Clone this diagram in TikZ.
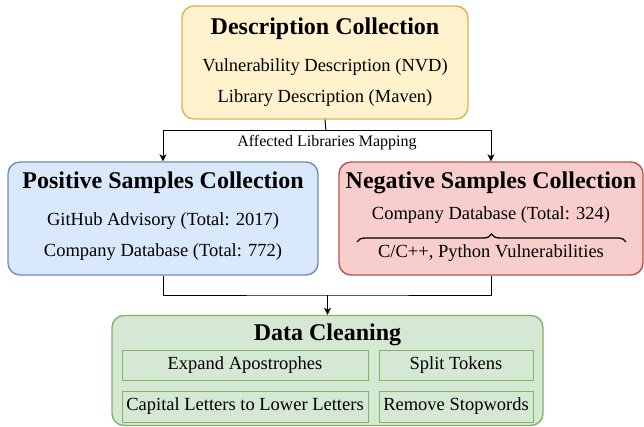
\documentclass[tikz,border=0pt]{standalone}
\usepackage{fontspec}
\setmainfont{Liberation Serif}
\usepackage{xcolor}
\usetikzlibrary{arrows.meta,calc,decorations.pathreplacing}
\definecolor{descfill}{HTML}{FFF2CC}
\definecolor{descline}{HTML}{D6B656}
\definecolor{posfill}{HTML}{DAE8FC}
\definecolor{posline}{HTML}{6C8EBF}
\definecolor{negfill}{HTML}{F8CECC}
\definecolor{negline}{HTML}{B85450}
\definecolor{cleanfill}{HTML}{D5E8D4}
\definecolor{cleanline}{HTML}{82B366}
\tikzset{bigbox/.style={draw, rounded corners=12pt, line width=1.4pt, inner sep=0pt},
stepbox/.style={draw=cleanline, fill=cleanfill, line width=0.9pt, inner sep=0pt, minimum width=246pt, font=\fontsize{18.5}{22}\selectfont},
titletext/.style={font=\fontsize{24}{28}\selectfont\bfseries},
bodytext/.style={font=\fontsize{18.5}{22}\selectfont},
flow/.style={line width=1pt, -{Stealth[length=7pt,width=7pt,inset=2pt]}}}

\begin{document}
\begin{tikzpicture}[x=1pt,y=-1pt]
    %Values
    \def\boxh{113};
    \useasboundingbox (0,0) rectangle (644,427);

    % Boxes
    \node[bigbox, fill=descfill, draw=descline, minimum width=286pt, minimum height=\boxh pt] (desc) at (325,62.5) {};
    \node[bigbox, fill=posfill, draw=posline, minimum width=310pt, minimum height=\boxh pt] (pos) at (163,218.5) {};
    \node[bigbox, fill=negfill, draw=negline, minimum width=304pt, minimum height=\boxh pt] (neg) at (491,218.5) {};
    \node[bigbox, fill=cleanfill, draw=cleanline, minimum width=431pt, minimum height=110pt] (clean) at (327.5,370.5) {};

    % Texts
    \node[titletext] (desct) at (325,29) {Description Collection};
    \node[bodytext] (desca) at (325,67) {Vulnerability Description (NVD)};
    \node[bodytext] (descb) at (325,98) {Library Description (Maven)};

    \node[titletext] (post) at (163,183) {Positive Samples Collection};
    \node[bodytext] (posa) at (163,221) {GitHub Advisory (Total: 2017)};
    \node[bodytext] (posb) at (163,252) {Company Database (Total: 772)};

    \node[titletext] (negt) at (491,183) {Negative Samples Collection};
    \node[bodytext] (nega) at (491,215) {Company Database (Total: 324)};
    \node[bodytext] (negb) at (491,253) {C/C++, Python Vulnerabilities};
    \draw[decorate, decoration={brace, amplitude=8pt}, line width=1.3pt] (357,242) -- (626,242);

    \node[titletext] (cleant) at (327.5,335) {Data Cleaning};
    \node[stepbox, minimum height=30pt] (expand) at (245,365) {Expand Apostrophes};
    \node[stepbox, minimum width=154pt, minimum height=30pt] (split) at (456,365) {Split Tokens};
    \node[stepbox, minimum height=31pt] (capital) at (245,406.5) {Capital Letters to Lower Letters};
    \node[stepbox, minimum width=154pt, minimum height=31pt] (stop) at (456,406.5) {Remove Stopwords};

    % Arrows
    \coordinate (map) at (326,131);
    \coordinate (merge) at (327.5,295);
    \draw[line width=1pt] (desc.south) -- (map);
    \draw[flow] (map) -| (pos.north);
    \draw[flow] (map) -| (neg.north);
    \node[font=\fontsize{16}{19}\selectfont] (maplabel) at (327,143) {Affected Libraries Mapping};
    \draw[line width=1pt] (pos.south) |- (merge) -| (neg.south);
    \draw[flow] (merge) -- (clean.north);
\end{tikzpicture}
\end{document}
